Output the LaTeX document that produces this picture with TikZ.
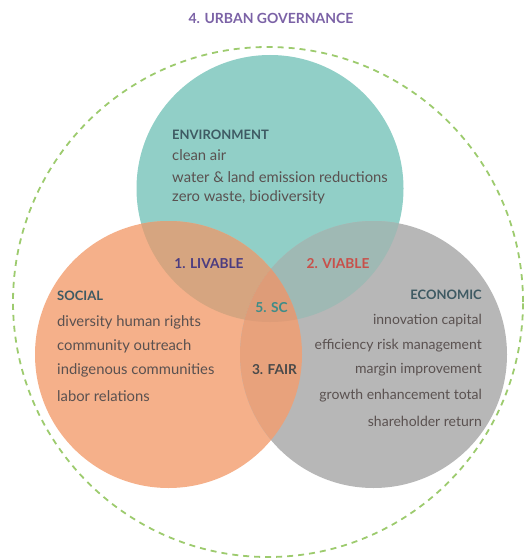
\documentclass[tikz,border=0pt]{standalone}
\usepackage{fontspec}
\setmainfont{Lato}
\definecolor{tealc}{HTML}{91CFC7}
\definecolor{orangec}{HTML}{F5B08A}
\definecolor{grayc}{HTML}{B7B7B7}
\definecolor{tealorange}{HTML}{D6A580}
\definecolor{tealgray}{HTML}{9FB9B4}
\definecolor{orangegray}{HTML}{E8A27C}
\definecolor{centerc}{HTML}{DE9C78}
\definecolor{dashgreen}{HTML}{9DCB6E}
\definecolor{titlec}{HTML}{7B62A6}
\definecolor{headc}{HTML}{3E5A63}
\definecolor{bodyc}{HTML}{5A5150}
\definecolor{livc}{HTML}{4B3C80}
\definecolor{viac}{HTML}{C8504A}
\definecolor{scc}{HTML}{3E8C88}
\definecolor{fairc}{HTML}{4A4A4A}
\tikzset{
  body/.style={font=\fontsize{14.8}{16}\selectfont, text=bodyc, inner sep=0pt},
  bodyeco/.style={font=\fontsize{14}{16}\selectfont, text=bodyc, inner sep=0pt},
  head/.style={font=\fontsize{13}{15}\selectfont\bfseries, text=headc, inner sep=0pt},
  lab/.style={font=\fontsize{13.7}{15}\selectfont\bfseries, inner sep=0pt},
  ring/.style={draw=dashgreen, line width=1.8pt, dash pattern=on 6pt off 5pt}
}
\begin{document}
\begin{tikzpicture}[x=1pt,y=-1pt]
\useasboundingbox (0,0) rectangle (524,559);
\coordinate (E) at (270,188.5);
\coordinate (S) at (168.5,354.5);
\coordinate (C) at (373.5,354.5);
\coordinate (O) at (268,302);
% circles
\fill[tealc] (E) circle[radius=133.5pt];
\fill[orangec] (S) circle[radius=133.5pt];
\fill[grayc] (C) circle[radius=133.5pt];
\begin{scope}
  \clip (E) circle[radius=133.5pt];
  \fill[tealorange] (S) circle[radius=133.5pt];
  \fill[tealgray] (C) circle[radius=133.5pt];
\end{scope}
\begin{scope}
  \clip (S) circle[radius=133.5pt];
  \clip (C) circle[radius=133.5pt];
  \fill[orangegray] (C) ++(-200pt,-300pt) rectangle ++(400pt,600pt);
  \clip (E) circle[radius=133.5pt];
  \fill[centerc] (C) ++(-200pt,-300pt) rectangle ++(400pt,600pt);
\end{scope}
% outer dashed ring
\draw[ring] (O) circle[radius=255pt];
% title
\node[font=\fontsize{14}{16}\selectfont\bfseries, text=titlec, inner sep=0pt] (title) at (271,18) {4. URBAN GOVERNANCE};
% environment
\node[head, anchor=west] (envh) at (172,135) {ENVIRONMENT};
\node[body, anchor=west] (env1) at (172,155.5) {clean air};
\node[body, anchor=west] (env2) at (172,177) {water \& land emission reductions};
\node[body, anchor=west] (env3) at (172,197) {zero waste, biodiversity};
% social
\node[head, anchor=west] (soch) at (57,296) {SOCIAL};
\node[body, anchor=west] (soc1) at (57,322) {diversity human rights};
\node[body, anchor=west] (soc2) at (57,346) {community outreach};
\node[body, anchor=west] (soc3) at (57,370) {indigenous communities};
\node[body, anchor=west] (soc4) at (57,396) {labor relations};
% economic
\node[head, anchor=east] (ecoh) at (482,295) {ECONOMIC};
\node[bodyeco, anchor=east] (eco1) at (482,321) {innovation capital};
\node[bodyeco, anchor=east] (eco2) at (482,346) {efficiency risk management};
\node[bodyeco, anchor=east] (eco3) at (482,370) {margin improvement};
\node[bodyeco, anchor=east] (eco4) at (482,396) {growth enhancement total};
\node[bodyeco, anchor=east] (eco5) at (482,421) {shareholder return};
% overlap labels
\node[lab, text=livc] (liv) at (209,264) {1. LIVABLE};
\node[lab, text=viac] (via) at (338,264) {2. VIABLE};
\node[lab, text=scc] (sc) at (271.5,308) {5. SC};
\node[lab, text=fairc] (fair) at (274.5,370) {3. FAIR};
\end{tikzpicture}
\end{document}
